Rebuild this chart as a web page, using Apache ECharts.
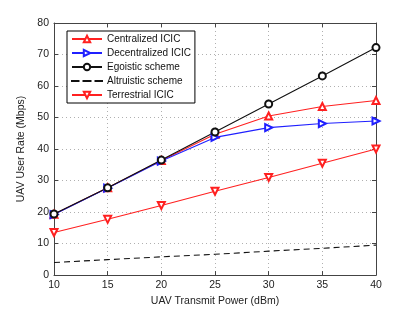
<!DOCTYPE html>
<html><head><meta charset="utf-8">
<script src="https://cdn.jsdelivr.net/npm/echarts@6/dist/echarts.min.js"></script>
<style>html,body{margin:0;padding:0;background:#fff}#c{width:415px;height:312px}</style>
</head><body><div id="c"></div>
<script>
const powers = [10, 15, 20, 25, 30, 35, 40];
const centralized = [19.3, 27.7, 36.4, 44.7, 50.5, 53.5, 55.4];
const decentralized = [19.2, 27.6, 36.2, 43.7, 46.8, 48.1, 48.9];
const egoistic = [19.4, 27.7, 36.5, 45.4, 54.3, 63.2, 72.2];
const altruistic = [4.0, 4.9, 5.8, 6.6, 7.6, 8.5, 9.5];
const terrestrial = [13.5, 17.7, 22.1, 26.6, 31.0, 35.5, 40.0];
const xTicks = [10, 15, 20, 25, 30, 35, 40];
const yTicks = [0, 10, 20, 30, 40, 50, 60, 70, 80];

const font = 'Liberation Sans, Arial, sans-serif';
const pair = a => a.map((v, i) => [powers[i], v]);
function s(name, data, color, symbol, rot, dashed) {
  return {
    name, type: 'line', data: pair(data), symbol, symbolSize: 7,
    symbolRotate: rot, showSymbol: symbol !== 'none',
    lineStyle: { color, width: 1.1, type: dashed ? [6, 4] : 'solid' },
    itemStyle: { color, borderColor: color, borderWidth: 1.1 },
    animation: false, z: 3
  };
}
const axisBase = {
  type: 'value',
  axisLine: { show: true, onZero: false, lineStyle: { color: '#444', width: 1 } },
  axisTick: { show: true, inside: true, length: 4, lineStyle: { color: '#444' } },
  splitLine: { show: false }
};
const chart = echarts.init(document.getElementById('c'));
chart.setOption({
  backgroundColor: '#fff',
  grid: { left: 54, right: 39, top: 23, bottom: 35 },
  legend: {
    orient: 'vertical', left: 67, top: 31,
    itemWidth: 30, itemHeight: 8, itemGap: 4,
    padding: [3, 4, 3, 4],
    borderColor: '#000', borderWidth: 1, backgroundColor: '#fff',
    textStyle: { fontFamily: font, fontSize: 10, color: '#111' },
    data: ['Centralized ICIC', 'Decentralized ICIC', 'Egoistic scheme',
      { name: 'Altruistic scheme', icon: 'path://M0,4h6.5v0.15h-6.5z M11.5,4h7v0.15h-7z M23.5,4h6.5v0.15h-6.5z' },
      'Terrestrial ICIC']
  },
  xAxis: [
    Object.assign({}, axisBase, {
      min: 10, max: 40, interval: 5, position: 'bottom',
      name: 'UAV Transmit Power (dBm)', nameLocation: 'middle', nameGap: 17,
      nameTextStyle: { fontFamily: font, fontSize: 10.5, color: '#222' },
      axisLabel: { fontFamily: font, fontSize: 10.5, color: '#222', margin: 5, formatter: v => xTicks.includes(v) ? v : '' },
      splitLine: { show: true, lineStyle: { color: '#b0b0b0', type: [1, 3], width: 1 } }
    }),
    Object.assign({}, axisBase, {
      min: 10, max: 40, interval: 5, position: 'top', axisLabel: { show: false }
    })
  ],
  yAxis: [
    Object.assign({}, axisBase, {
      min: 0, max: 80, interval: 10, position: 'left',
      name: 'UAV User Rate (Mbps)', nameLocation: 'middle', nameGap: 22,
      nameTextStyle: { fontFamily: font, fontSize: 10.5, color: '#222' },
      axisLabel: { fontFamily: font, fontSize: 10.5, color: '#222', margin: 5, formatter: v => yTicks.includes(v) ? v : '' },
      splitLine: { show: true, lineStyle: { color: '#b0b0b0', type: [1, 3], width: 1 } }
    }),
    Object.assign({}, axisBase, {
      min: 0, max: 80, interval: 10, position: 'right', axisLabel: { show: false }
    })
  ],
  series: [
    s('Centralized ICIC', centralized, '#ff2020', 'emptyTriangle', 0),
    s('Decentralized ICIC', decentralized, '#2020ff', 'emptyTriangle', -90),
    s('Egoistic scheme', egoistic, '#111111', 'emptyCircle', 0),
    s('Altruistic scheme', altruistic, '#111111', 'none', 0, true),
    s('Terrestrial ICIC', terrestrial, '#ff2020', 'emptyTriangle', 180)
  ]
});
</script></body></html>
